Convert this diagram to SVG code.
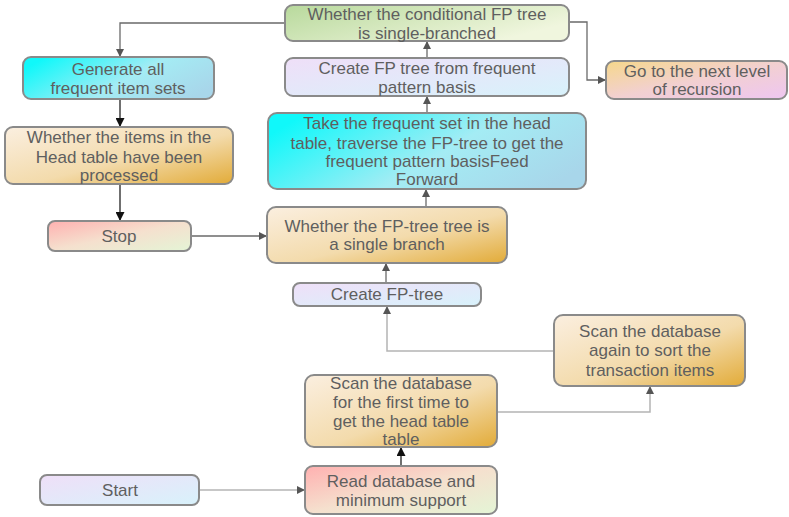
<svg xmlns="http://www.w3.org/2000/svg" width="789" height="517" viewBox="0 0 789 517">
<defs>
<linearGradient id="gGold" x1="0" y1="0" x2="1" y2="1"><stop offset="0" stop-color="#fbefe0"/><stop offset="0.55" stop-color="#f3dbac"/><stop offset="1" stop-color="#e2ab38"/></linearGradient>
<linearGradient id="gCyan" x1="0" y1="0.3" x2="1" y2="0.7"><stop offset="0" stop-color="#10f8fa"/><stop offset="0.55" stop-color="#a4ecf4"/><stop offset="1" stop-color="#a8d6ea"/></linearGradient>
<linearGradient id="gLav" x1="0" y1="0" x2="1" y2="1"><stop offset="0" stop-color="#efdff8"/><stop offset="1" stop-color="#d8f2fb"/></linearGradient>
<linearGradient id="gPink" x1="0" y1="0" x2="1" y2="1"><stop offset="0" stop-color="#ffb0b0"/><stop offset="0.5" stop-color="#f5e0ce"/><stop offset="1" stop-color="#e4f5d6"/></linearGradient>
<linearGradient id="gGreen" x1="0" y1="0" x2="1" y2="0.5"><stop offset="0" stop-color="#b8d99c"/><stop offset="1" stop-color="#f0f6de"/></linearGradient>
<linearGradient id="gOrPk" x1="0" y1="0" x2="1" y2="1"><stop offset="0" stop-color="#f6d88a"/><stop offset="0.5" stop-color="#f2d0d0"/><stop offset="1" stop-color="#eec6f2"/></linearGradient>
<marker id="arr" viewBox="0 0 10 10" refX="10" refY="5" markerWidth="9" markerHeight="8" markerUnits="userSpaceOnUse" orient="auto"><path d="M0,0 L10,5 L0,10 z" fill="#555"/></marker>
<marker id="arrB" viewBox="0 0 10 10" refX="10" refY="5" markerWidth="10" markerHeight="9" markerUnits="userSpaceOnUse" orient="auto"><path d="M0,0 L10,5 L0,10 z" fill="#111"/></marker>
</defs>
<style>
.box{stroke:#8a8a8a;stroke-width:2}
text{font-family:"Liberation Sans",Arial,sans-serif;font-size:17px;fill:#5f5f5f;text-anchor:middle}
.c{fill:none;stroke:#6a6a6a;stroke-width:1.3;marker-end:url(#arr)}
.cl{fill:none;stroke:#b4b4b4;stroke-width:1.5;marker-end:url(#arr)}
.cb{fill:none;stroke:#222;stroke-width:1.3;marker-end:url(#arrB)}
</style>
<g id="connectors">
<path class="c" d="M285,23 H120 V57"/>
<path class="c" d="M569,22 H587 V80 H606"/>
<path class="c" d="M427,113 V96"/>
<path class="c" d="M427,58 V41"/>
<path class="cb" d="M120,99 V127"/>
<path class="cb" d="M120,184 V221"/>
<path class="c" d="M191,236 H267"/>
<path class="c" d="M426,207 V189"/>
<path class="c" d="M386,283 V263"/>
<path class="cl" d="M554,351 H387 V306"/>
<path class="cl" d="M497,412 H650 V386"/>
<path class="cb" d="M401,466 V447"/>
<path class="cl" d="M199,490 H305"/>
</g>
<g id="n_cond_single">
<rect class="box" x="285" y="5" width="284" height="36" rx="8" fill="url(#gGreen)"/>
<text x="427" y="20">Whether the conditional FP tree</text>
<text x="427" y="39">is single-branched</text>
</g>
<g id="n_create_fp_basis">
<rect class="box" x="285" y="58" width="284" height="38" rx="8" fill="url(#gLav)"/>
<text x="427" y="74">Create FP tree from frequent</text>
<text x="427" y="93">pattern basis</text>
</g>
<g id="n_next_level">
<rect class="box" x="606" y="61" width="181" height="38" rx="8" fill="url(#gOrPk)"/>
<text x="697" y="77">Go to the next level</text>
<text x="697" y="95">of recursion</text>
</g>
<g id="n_take">
<rect class="box" x="268" y="113" width="318" height="76" rx="9" fill="url(#gCyan)"/>
<text x="427" y="129">Take the frequent set in the head</text>
<text x="427" y="149">table, traverse the FP-tree to get the</text>
<text x="427" y="167">frequent pattern basisFeed</text>
<text x="427" y="185">Forward</text>
</g>
<g id="n_generate">
<rect class="box" x="23" y="57" width="191" height="42" rx="8" fill="url(#gCyan)"/>
<text x="118" y="75">Generate all</text>
<text x="118" y="94">frequent item sets</text>
</g>
<g id="n_items_processed">
<rect class="box" x="5" y="127" width="228" height="57" rx="8" fill="url(#gGold)"/>
<text x="119" y="143">Whether the items in the</text>
<text x="119" y="163">Head table have been</text>
<text x="119" y="181">processed</text>
</g>
<g id="n_stop">
<rect class="box" x="48" y="221" width="143" height="30" rx="7" fill="url(#gPink)"/>
<text x="119" y="242">Stop</text>
</g>
<g id="n_single_branch">
<rect class="box" x="267" y="207" width="240" height="56" rx="9" fill="url(#gGold)"/>
<text x="387" y="232">Whether the FP-tree tree is</text>
<text x="387" y="250">a single branch</text>
</g>
<g id="n_create_fp">
<rect class="box" x="293" y="283" width="188" height="23" rx="7" fill="url(#gLav)"/>
<text x="387" y="300">Create FP-tree</text>
</g>
<g id="n_scan_again">
<rect class="box" x="554" y="315" width="191" height="71" rx="9" fill="url(#gGold)"/>
<text x="650" y="337">Scan the database</text>
<text x="650" y="356">again to sort the</text>
<text x="650" y="376">transaction items</text>
</g>
<g id="n_scan_first">
<rect class="box" x="305" y="375" width="192" height="72" rx="9" fill="url(#gGold)"/>
<text x="401" y="389">Scan the database</text>
<text x="401" y="408">for the first time to</text>
<text x="401" y="427">get the head table</text>
<text x="401" y="445">table</text>
</g>
<g id="n_read">
<rect class="box" x="305" y="466" width="192" height="48" rx="8" fill="url(#gPink)"/>
<text x="401" y="487">Read database and</text>
<text x="401" y="506">minimum support</text>
</g>
<g id="n_start">
<rect class="box" x="40" y="475" width="159" height="30" rx="7" fill="url(#gLav)"/>
<text x="120" y="496">Start</text>
</g>
</svg>
